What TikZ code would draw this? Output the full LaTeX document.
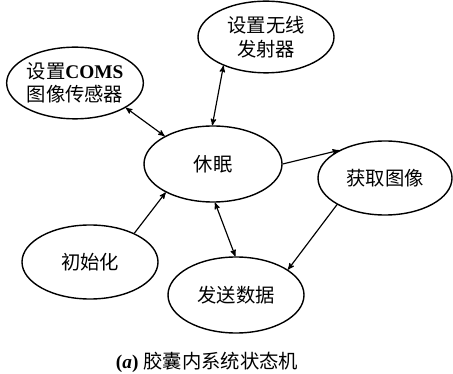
\documentclass[tikz,border=0pt]{standalone}
\usepackage{fontspec}
\setmainfont{Liberation Serif}
\newfontfamily\cjk{Noto Sans CJK SC}
\usetikzlibrary{arrows,shapes.geometric}

\begin{document}
\begin{tikzpicture}[x=0.03cm,y=-0.03cm,>=stealth',line width=1pt,
				mstate/.style={ellipse,draw,line width=1.2pt,inner sep=0pt,
					minimum width=4.08cm,minimum height=2.15cm,align=center,
					font=\fontsize{16.5}{20}\selectfont\cjk}]
			\useasboundingbox (0,0) rectangle (453,374);
			%\tikzstyle{every node}=[font=\cjk]
			\node[mstate] (wx)   at (266,37)  {设置无线\\发射器};
			\node[mstate] (coms) at (75,83)   {设置{\bfseries\rmfamily COMS}\\图像传感器};
			\node[mstate,minimum width=4.14cm,minimum height=2.28cm] (xm) at (213,164) {休眠};
			\node[mstate,minimum width=4.02cm,minimum height=2.22cm] (hq) at (385,178) {获取图像};
			\node[mstate,minimum height=2.22cm] (csh)  at (90,262)  {初始化};
			\node[mstate,minimum height=2.28cm] (fs)   at (236,295) {发送数据};
			\node (cap) at (207,362) {\fontsize{16.5}{20}\selectfont\textbf{(\textit{a})} {\cjk 胶囊内系统状态机}};
			\draw[<->] (coms.-26.6) -- (xm.150.6);
			\draw[<->] (wx.214.8) -- (xm.91.5);
			\draw[->] (xm.0) -- (hq.149.2);
			\draw[->] (hq.209.9) -- (fs.26.1);
			\draw[->] (csh.33.7) -- (xm.211.1);
			\draw[<->] (xm.273) -- (fs.91.5);
		\end{tikzpicture}
\end{document}
